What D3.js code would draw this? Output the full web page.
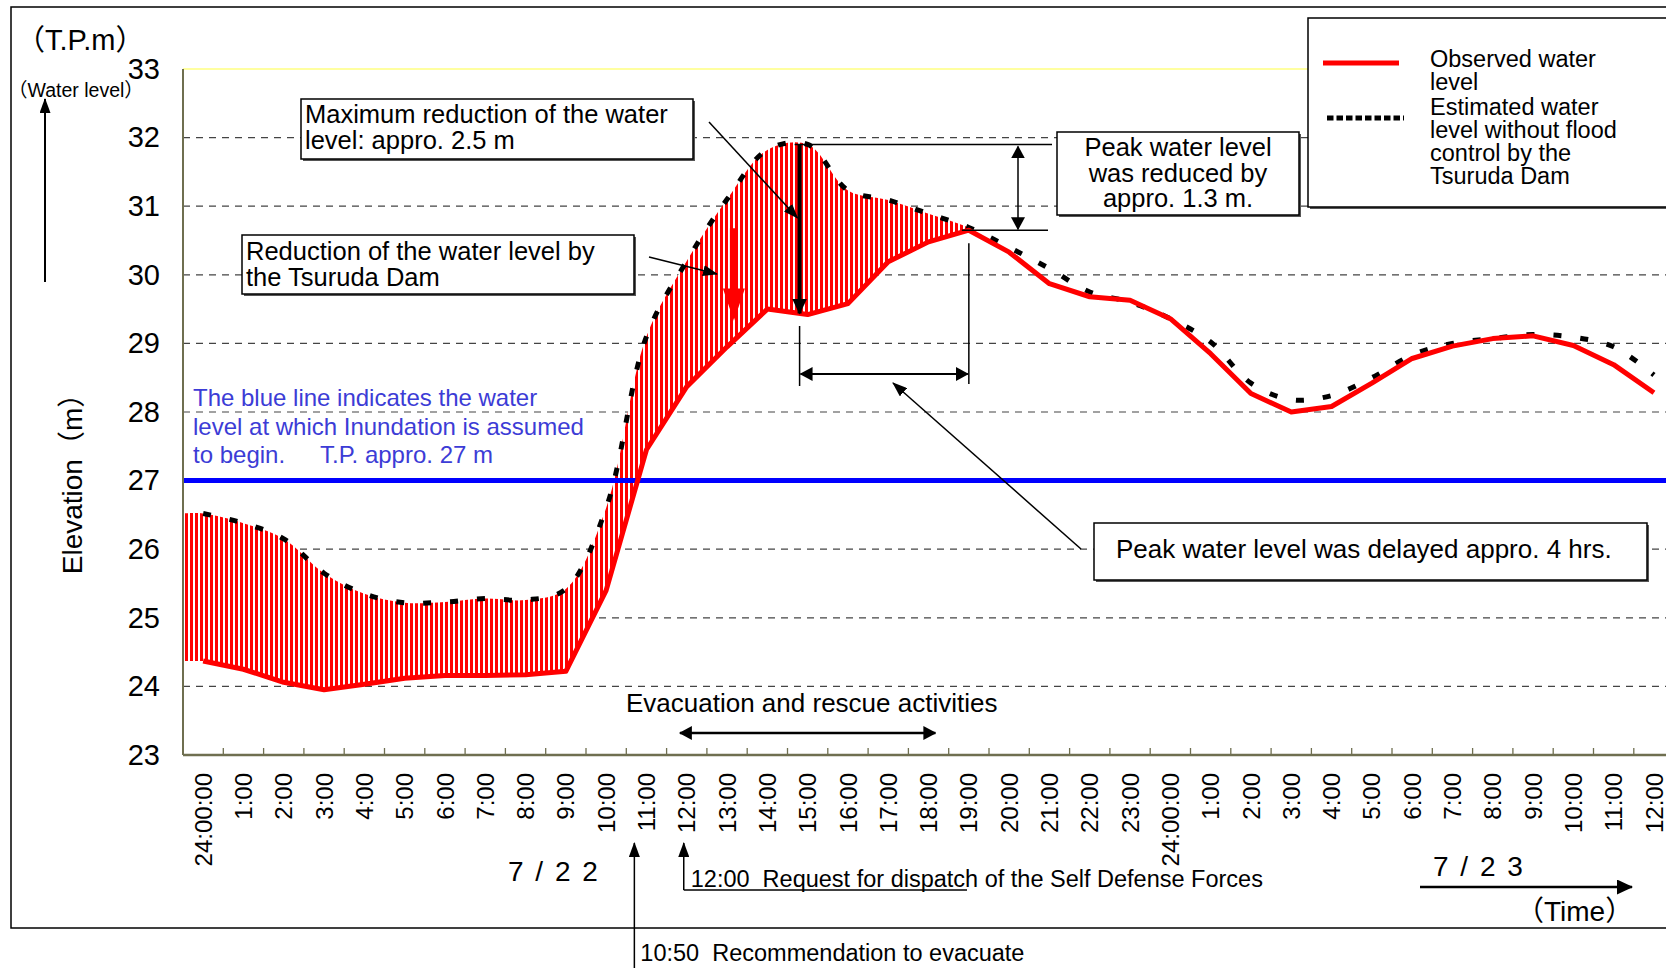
<!DOCTYPE html>
<html>
<head>
<meta charset="utf-8">
<script src="https://cdn.jsdelivr.net/npm/d3@7"></script>
<style>
body { margin: 0; background: #fff; }
svg { display: block; font-family: "Liberation Sans", Arial, "Noto Sans CJK JP", sans-serif; }
text { white-space: pre; }
</style>
</head>
<body>
<svg width="1666" height="968"></svg>
<script>
// hourly water level, 7/22 24:00 (= 7/22 0:00) to 7/23 12:00
var hourLabels = ["24:00:00", "1:00", "2:00", "3:00", "4:00", "5:00", "6:00", "7:00", "8:00", "9:00",
    "10:00", "11:00", "12:00", "13:00", "14:00", "15:00", "16:00", "17:00", "18:00", "19:00",
    "20:00", "21:00", "22:00", "23:00", "24:00:00", "1:00", "2:00", "3:00", "4:00", "5:00",
    "6:00", "7:00", "8:00", "9:00", "10:00", "11:00", "12:00"];

var observed = [24.37, 24.25, 24.06, 23.95, 24.03, 24.12, 24.16, 24.16, 24.17, 24.22,
    25.40, 27.45, 28.37, 28.95, 29.50, 29.42, 29.58, 30.19, 30.48, 30.65,
    30.33, 29.87, 29.68, 29.63, 29.36, 28.85, 28.27, 28.00, 28.08, 28.42,
    28.78, 28.96, 29.07, 29.11, 28.97, 28.69, 28.28];

var estimated = [26.52, 26.38, 26.15, 25.65, 25.35, 25.22, 25.23, 25.28, 25.26, 25.42,
    26.60, 29.10, 30.20, 31.10, 31.82, 31.90, 31.23, 31.09, 30.89, 30.69,
    30.40, 30.09, 29.75, 29.60, 29.36, 29.02, 28.42, 28.18, 28.24, 28.50,
    28.83, 29.00, 29.07, 29.13, 29.09, 28.95, 28.54];

var levelTicks = [23, 24, 25, 26, 27, 28, 29, 30, 31, 32, 33];
var gridLevels = [24, 25, 26, 28, 29, 30, 31, 32];
var inundationLevel = 27;

var svg = d3.select("svg"),
    width = 1666,
    height = 968,
    plotLeft = 183,
    plotTop = 69,
    plotBottom = 755;

var x = d3.scaleBand()
    .domain(d3.range(hourLabels.length))
    .range([plotLeft, plotLeft + 40.3 * hourLabels.length]);

var y = d3.scaleLinear()
    .domain([23, 33])
    .range([plotBottom, plotTop]);

function cx(i) { return x(i) + x.bandwidth() / 2; }
// position of a (fractional) hour on the time axis
function xh(h) { return x.range()[0] + (h + 0.5) * x.step(); }

var estPeak = d3.max(estimated),
    obsPeak = d3.max(observed),
    estPeakH = 14.8,
    obsPeakH = observed.indexOf(obsPeak);

var defs = svg.append("defs");

// vertical red hatching
var hatch = defs.append("pattern")
    .attr("id", "hatch")
    .attr("patternUnits", "userSpaceOnUse")
    .attr("width", 5)
    .attr("height", 10);
hatch.append("rect").attr("width", 5).attr("height", 10).attr("fill", "#fff");
hatch.append("rect").attr("width", 3).attr("height", 10).attr("fill", "#ff0000");

function addMarker(id, len, wid, color) {
    defs.append("marker")
        .attr("id", id)
        .attr("viewBox", "0 0 " + len + " " + wid)
        .attr("refX", len - 1)
        .attr("refY", wid / 2)
        .attr("markerWidth", len)
        .attr("markerHeight", wid)
        .attr("markerUnits", "userSpaceOnUse")
        .attr("orient", "auto-start-reverse")
        .append("path")
        .attr("d", "M0,0L" + len + "," + (wid / 2) + "L0," + wid + "Z")
        .attr("fill", color);
}
addMarker("head", 15, 11, "#000");
addMarker("headBig", 16, 15, "#000");
addMarker("headDouble", 13, 14, "#000");

// fill runs from the axis, the lines from the first hour
var fillPts = [{px: x.range()[0], o: observed[0], e: estimated[0]}]
    .concat(observed.map(function(o, i) { return {px: cx(i), o: o, e: estimated[i]}; }));

defs.append("clipPath").attr("id", "underEst")
    .append("path")
    .attr("d", d3.area()
        .x(function(d) { return d.px; })
        .y0(plotBottom + 40)
        .y1(function(d) { return y(d.e); })
        .curve(d3.curveCatmullRom)(fillPts));

defs.append("clipPath").attr("id", "overObs")
    .append("path")
    .attr("d", d3.area()
        .x(function(d) { return d.px; })
        .y0(0)
        .y1(function(d) { return y(d.o); })(fillPts));

svg.append("rect").attr("width", width).attr("height", height).attr("fill", "#fff");

// outer frame
svg.append("rect")
    .attr("x", 11).attr("y", 7)
    .attr("width", 1720).attr("height", 921)
    .attr("fill", "none")
    .attr("stroke", "#000")
    .attr("stroke-width", 1.5);

// grid
svg.append("g")
    .selectAll("line")
    .data(gridLevels)
    .enter().append("line")
    .attr("x1", plotLeft).attr("x2", width)
    .attr("y1", function(d) { return y(d); })
    .attr("y2", function(d) { return y(d); })
    .attr("stroke", "#444")
    .attr("stroke-width", 1.2)
    .attr("stroke-dasharray", "7,6");

svg.append("line")
    .attr("x1", plotLeft).attr("x2", width)
    .attr("y1", y(33)).attr("y2", y(33))
    .attr("stroke", "#ffffa0")
    .attr("stroke-width", 2);

// reduction by the dam, up to the observed peak
svg.append("g")
    .attr("clip-path", "url(#underEst)")
    .append("g")
    .attr("clip-path", "url(#overObs)")
    .append("rect")
    .attr("x", plotLeft).attr("y", 0)
    .attr("width", cx(obsPeakH) - plotLeft)
    .attr("height", plotBottom)
    .attr("fill", "url(#hatch)");

svg.append("line")
    .attr("x1", plotLeft).attr("x2", width)
    .attr("y1", y(inundationLevel)).attr("y2", y(inundationLevel))
    .attr("stroke", "#0000ff")
    .attr("stroke-width", 5);

svg.append("path")
    .attr("d", d3.line()
        .x(function(d, i) { return cx(i); })
        .y(function(d) { return y(d); })
        .curve(d3.curveCatmullRom)(estimated))
    .attr("fill", "none")
    .attr("stroke", "#000")
    .attr("stroke-width", 5)
    .attr("stroke-dasharray", "8,19");

svg.append("path")
    .attr("d", d3.line()
        .x(function(d, i) { return cx(i); })
        .y(function(d) { return y(d); })(observed))
    .attr("fill", "none")
    .attr("stroke", "#ff0000")
    .attr("stroke-width", 5)
    .attr("stroke-linejoin", "round");

// axes
var yAxis = svg.append("g")
    .attr("transform", "translate(" + plotLeft + ",0)")
    .call(d3.axisLeft(y).tickValues(levelTicks).tickSize(0).tickPadding(23));
yAxis.select(".domain").remove();
yAxis.selectAll("text").attr("font-size", 29).attr("font-family", null).attr("fill", "#000");

var xAxis = svg.append("g")
    .attr("transform", "translate(0," + plotBottom + ")")
    .call(d3.axisBottom(x).tickFormat(function(i) { return hourLabels[i]; }).tickSize(0));
xAxis.select(".domain").remove();
xAxis.selectAll("text")
    .attr("font-size", 24)
    .attr("font-family", null)
    .attr("fill", "#000")
    .attr("transform", "rotate(-90)")
    .attr("text-anchor", "end")
    .attr("x", -18)
    .attr("y", 0)
    .attr("dy", "0.36em");

svg.append("g")
    .selectAll("line")
    .data(d3.range(1, hourLabels.length + 1))
    .enter().append("line")
    .attr("x1", function(k) { return x.range()[0] + k * x.step(); })
    .attr("x2", function(k) { return x.range()[0] + k * x.step(); })
    .attr("y1", plotBottom).attr("y2", plotBottom - 7)
    .attr("stroke", "#6f6f50")
    .attr("stroke-width", 1.3);

svg.append("line")
    .attr("x1", plotLeft).attr("x2", width)
    .attr("y1", plotBottom).attr("y2", plotBottom)
    .attr("stroke", "#6f6f50").attr("stroke-width", 2.5);
svg.append("line")
    .attr("x1", plotLeft).attr("x2", plotLeft)
    .attr("y1", plotTop).attr("y2", plotBottom)
    .attr("stroke", "#6f6f50").attr("stroke-width", 2);

// helpers for the notes
function arrow(x1, y1, x2, y2, w, marker, both) {
    var l = svg.append("line")
        .attr("x1", x1).attr("y1", y1)
        .attr("x2", x2).attr("y2", y2)
        .attr("stroke", "#000")
        .attr("stroke-width", w);
    if (marker) l.attr("marker-end", "url(#" + marker + ")");
    if (both) l.attr("marker-start", "url(#" + marker + ")");
    return l;
}

function note(lines, tx, ty, size, lineH, anchor, color) {
    var t = svg.append("text")
        .attr("font-size", size)
        .attr("text-anchor", anchor || "start")
        .attr("fill", color || "#000");
    lines.forEach(function(s, i) {
        t.append("tspan").attr("x", tx).attr("y", ty + i * lineH).text(s);
    });
    return t;
}

function box(bx, by, bw, bh) {
    svg.append("rect")
        .attr("x", bx + 2).attr("y", by + 2)
        .attr("width", bw).attr("height", bh)
        .attr("fill", "#555");
    svg.append("rect")
        .attr("x", bx).attr("y", by)
        .attr("width", bw).attr("height", bh)
        .attr("fill", "#fff")
        .attr("stroke", "#000")
        .attr("stroke-width", 1.5);
}

// peak reduction
svg.append("line")
    .attr("x1", xh(estPeakH) - 5).attr("x2", 1052)
    .attr("y1", y(estPeak)).attr("y2", y(estPeak))
    .attr("stroke", "#000").attr("stroke-width", 1.5);
svg.append("line")
    .attr("x1", xh(obsPeakH) - 7).attr("x2", 1048)
    .attr("y1", y(obsPeak)).attr("y2", y(obsPeak))
    .attr("stroke", "#000").attr("stroke-width", 1.5);
arrow(1018, y(estPeak) + 2, 1018, y(obsPeak) - 1, 1.5, "headDouble", true);

// maximum reduction
arrow(xh(estPeakH), y(estPeak), xh(estPeakH), y(observed[15]) - 1, 4, "headBig");

// red arrow inside the hatching
var ra = xh(13.17);
svg.append("path")
    .attr("d", "M" + (ra - 4) + "," + y(30.68) + "V" + y(29.8) + "H" + (ra - 11) +
        "L" + ra + "," + y(29.33) + "L" + (ra + 11) + "," + y(29.8) + "H" + (ra + 4) + "V" + y(30.68) + "Z")
    .attr("fill", "#ff0000");

// delay of the peak
arrow(xh(estPeakH), 326, xh(estPeakH), 386, 1.5);
arrow(xh(obsPeakH), y(obsPeak) + 13, xh(obsPeakH), 384, 1.5);
arrow(xh(estPeakH) + 1, 374, xh(obsPeakH) - 1, 374, 2, "headDouble", true);
arrow(1081, 549, 893, 383, 1.5, "head");

// evacuation period
arrow(xh(11.83), 733, xh(18.17), 733, 2.5, "headDouble", true);
note(["Evacuation and rescue activities"], 626, 712, 26, 0);

box(301, 99, 392, 60);
note(["Maximum reduction of the water", "level: appro. 2.5 m"], 305, 123, 25.5, 25.5);
arrow(709, 122, xh(estPeakH) - 2, 218, 1.5, "head");

box(242, 235, 392, 59);
note(["Reduction of the water level by", "the Tsuruda Dam"], 246, 260, 25.5, 25.5);
arrow(649, 257, 717, 274, 1.5, "head");

box(1057, 132, 242, 83);
note(["Peak water level", "was reduced by", "appro. 1.3 m."], 1178, 156, 25.5, 25.5, "middle");

box(1094, 523, 553, 57);
note(["Peak water level was delayed appro. 4 hrs."], 1116, 558, 26, 0);

note(["The blue line indicates the water", "level at which Inundation is assumed", "to begin."],
    193, 406, 24, 28.7, "start", "#3c3cd6");
note(["T.P. appro. 27 m"], 320, 463.4, 24, 0, "start", "#3c3cd6");

// legend
box(1308, 18, 420, 189);
svg.append("line")
    .attr("x1", 1323).attr("x2", 1399)
    .attr("y1", 63).attr("y2", 63)
    .attr("stroke", "#ff0000").attr("stroke-width", 5);
svg.append("line")
    .attr("x1", 1327).attr("x2", 1404)
    .attr("y1", 118).attr("y2", 118)
    .attr("stroke", "#000").attr("stroke-width", 5)
    .attr("stroke-dasharray", "6.5,3");
note(["Observed water", "level"], 1430, 67, 23.5, 23);
note(["Estimated water", "level without flood", "control by the", "Tsuruda Dam"], 1430, 115, 23.5, 23);

// axis titles
note(["（T.P.m）"], 16, 50, 29, 0);
note(["（Water level）"], 8, 97, 19.5, 0);
arrow(45, 282, 45, 99, 2, "head");
svg.append("text")
    .attr("transform", "translate(82,477) rotate(-90)")
    .attr("text-anchor", "middle")
    .attr("font-size", 28)
    .text("Elevation（m）");

note(["7 / 2 2"], 508, 881, 28, 0).attr("letter-spacing", 2);
note(["7 / 2 3"], 1433, 876, 28, 0).attr("letter-spacing", 2);
arrow(1420, 887, 1632, 887, 2.5, "headBig");
note(["（Time）"], 1516, 921, 28, 0);

// events below the axis
arrow(xh(12) - 3, 890, xh(12) - 3, 843, 1.5, "head");
svg.append("line")
    .attr("x1", xh(12) - 3).attr("x2", 967)
    .attr("y1", 890).attr("y2", 890)
    .attr("stroke", "#000").attr("stroke-width", 1.5);
note(["12:00  Request for dispatch of the Self Defense Forces"], xh(12) + 4, 887, 23.5, 0);

arrow(xh(10.7), 968, xh(10.7), 843, 1.5, "head");
note(["10:50  Recommendation to evacuate"], xh(10.7) + 6, 961, 23.5, 0);
</script>
</body>
</html>
